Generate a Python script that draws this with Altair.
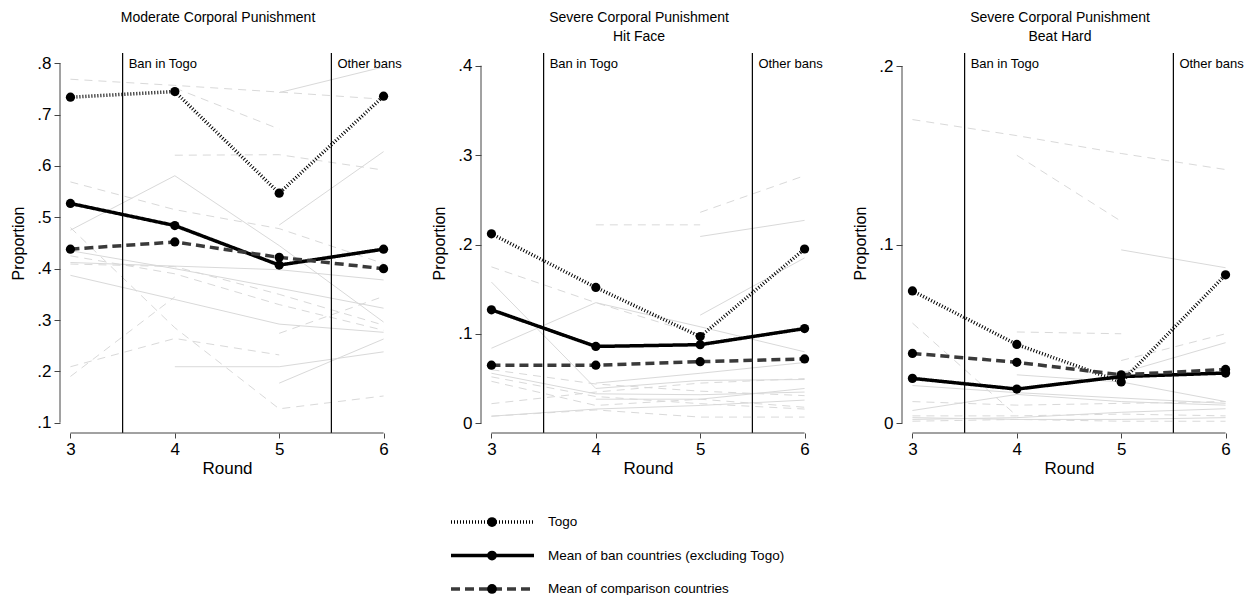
import altair as alt
import pandas as pd

rounds = [3, 4, 5, 6]
series_names = ["Togo", "Mean of ban countries (excluding Togo)", "Mean of comparison countries"]

# ---------------- Panel 1: Moderate corporal punishment ----------------
p1_togo = [0.734, 0.745, 0.547, 0.736]
p1_ban = [0.527, 0.484, 0.407, 0.438]
p1_comp = [0.438, 0.452, 0.422, 0.400]
p1_ban_countries = [
    [None, None, 0.743, 0.793],
    [None, None, 0.485, 0.628],
    [0.475, 0.581, 0.445, 0.296],
    [0.387, 0.340, 0.292, 0.276],
    [0.435, 0.400, 0.362, 0.323],
    [None, 0.209, 0.209, 0.238],
    [None, None, 0.177, 0.263],
    [0.412, 0.405, 0.398, 0.378],
]
p1_comp_countries = [
    [0.769, 0.757, 0.744, 0.730],
    [None, 0.752, 0.672, None],
    [None, 0.621, 0.622, 0.592],
    [0.569, 0.515, 0.478, 0.410],
    [0.409, 0.404, 0.350, 0.290],
    [0.480, 0.285, 0.127, 0.152],
    [0.209, 0.264, 0.232, None],
    [0.190, 0.345, None, None],
    [None, None, 0.274, 0.346],
    [0.425, 0.390, 0.330, 0.280],
]

# ---------------- Panel 2: Severe - hit face ----------------
p2_togo = [0.212, 0.152, 0.097, 0.195]
p2_ban = [0.127, 0.086, 0.088, 0.106]
p2_comp = [0.065, 0.065, 0.069, 0.072]
p2_ban_countries = [
    [None, None, 0.209, 0.227],
    [None, None, 0.121, 0.185],
    [0.084, 0.135, 0.108, 0.080],
    [0.158, 0.039, 0.048, 0.049],
    [0.056, 0.033, 0.032, 0.035],
    [0.008, 0.016, 0.020, 0.026],
    [None, 0.027, 0.027, 0.039],
    [None, 0.045, 0.056, 0.068],
]
p2_comp_countries = [
    [None, 0.222, 0.222, None],
    [None, None, 0.236, 0.277],
    [0.175, 0.135, 0.099, None],
    [0.052, 0.030, 0.022, 0.016],
    [0.022, 0.035, 0.045, 0.050],
    [0.008, 0.015, 0.007, 0.007],
    [0.047, 0.020, 0.027, 0.018],
    [0.060, 0.044, 0.036, 0.031],
]

# ---------------- Panel 3: Severe - beat hard ----------------
p3_togo = [0.074, 0.044, 0.023, 0.083]
p3_ban = [0.025, 0.019, 0.026, 0.028]
p3_comp = [0.039, 0.034, 0.027, 0.030]
p3_ban_countries = [
    [None, None, 0.097, 0.087],
    [None, None, 0.028, 0.045],
    [None, 0.027, 0.023, 0.012],
    [0.021, 0.017, 0.014, 0.011],
    [0.007, 0.016, 0.012, 0.010],
    [0.003, 0.002, 0.002, 0.003],
    [0.002, 0.003, 0.006, 0.008],
]
p3_comp_countries = [
    [0.170, 0.161, 0.151, 0.142],
    [None, 0.150, 0.113, None],
    [None, 0.051, 0.050, None],
    [0.056, 0.004, None, None],
    [None, None, 0.035, 0.050],
    [0.012, 0.010, 0.011, 0.012],
    [0.004, 0.004, 0.005, 0.004],
    [0.001, 0.002, 0.001, 0.001],
]

ban_lines = [3.5, 5.5]
ban_labels = ["Ban in Togo", "Other bans"]

W, H = 334, 380
FONT = "Liberation Sans"

# style per main series: (color, dash, width)
STYLES = {
    "Togo": ("black", [1, 2], 3.5),
    "Mean of ban countries (excluding Togo)": ("black", [1, 0], 3.5),
    "Mean of comparison countries": ("#3a3a3a", [9, 5], 3.5),
}


def gray_segments(group):
    rows = []
    seg = 0
    for vals in group:
        run = []
        for r, v in list(zip(rounds, vals)) + [(None, None)]:
            if v is None:
                if len(run) >= 2:
                    for rr, vv in run:
                        rows.append({"round": rr, "value": vv, "seg": seg})
                    seg += 1
                run = []
            else:
                run.append((r, v))
    return pd.DataFrame(rows)


def make_panel(title, togo, ban, comp, ban_c, comp_c, ydom, yticks):
    xscale = alt.Scale(domain=[2.9, 6.1], nice=False, zero=False)
    yscale = alt.Scale(domain=ydom, nice=False, zero=False)
    xaxis = alt.Axis(values=rounds, title="Round", domain=False, grid=False,
                     tickSize=5, tickColor="#444", labelFontSize=17, titleFontSize=17,
                     titleFontWeight="normal", labelPadding=3, titlePadding=3,
                     labelColor="black", titleColor="black")
    yaxis = alt.Axis(values=yticks, title="Proportion", domain=False, grid=False,
                     tickSize=6, tickColor="#444", labelFontSize=17, titleFontSize=16,
                     titleFontWeight="normal", labelPadding=3, titlePadding=10,
                     labelAngle=0, labelColor="black", titleColor="black",
                     labelExpr="datum.value == 0 ? '0' : replace(format(datum.value, '.1f'), '0.', '.')")
    X = alt.X("round:Q", scale=xscale, axis=xaxis)
    Y = alt.Y("value:Q", scale=yscale, axis=yaxis)

    gray_ban = alt.Chart(gray_segments(ban_c)).mark_line(strokeWidth=1, color="#d9d9d9").encode(
        x=X, y=Y, detail="seg:N")
    gray_comp = alt.Chart(gray_segments(comp_c)).mark_line(strokeWidth=1, color="#d9d9d9", strokeDash=[8, 6]).encode(
        x=X, y=Y, detail="seg:N")

    vdf = pd.DataFrame({"round": ban_lines, "label": ban_labels})
    vrules = alt.Chart(vdf).mark_rule(color="black", strokeWidth=1.2).encode(
        x=X, y=alt.value(0), y2=alt.value(H))
    vtext = alt.Chart(vdf).mark_text(align="left", baseline="middle", dx=6, fontSize=13, font=FONT).encode(
        x=X, y=alt.value(11), text="label:N")

    yline = alt.Chart(pd.DataFrame({"value": [yticks[0]], "hi": [yticks[-1]]})).mark_rule(color="#444", strokeWidth=1).encode(
        x=alt.value(0), y=Y, y2="hi:Q")
    xline = alt.Chart(pd.DataFrame({"round": [rounds[0]], "hi": [rounds[-1]]})).mark_rule(color="#444", strokeWidth=1).encode(
        y=alt.value(H), x=X, x2="hi:Q")

    layers = [gray_ban, gray_comp, vrules, vtext, yline, xline]
    for s, vals in zip(series_names, (togo, ban, comp)):
        df = pd.DataFrame({"round": rounds, "value": vals})
        col, dash, wid = STYLES[s]
        layers.append(alt.Chart(df).mark_line(color=col, strokeDash=dash, strokeWidth=wid).encode(x=X, y=Y))
        layers.append(alt.Chart(df).mark_circle(size=85, color="black", opacity=1).encode(x=X, y=Y))

    return alt.layer(*layers).properties(
        width=W, height=H,
        title=alt.TitleParams(text=title, fontSize=14, fontWeight="normal", anchor="middle",
                              frame="group", dx=-9, offset=8, lineHeight=19, color="black", font=FONT),
    )


c1 = make_panel(["Moderate Corporal Punishment", " "], p1_togo, p1_ban, p1_comp,
                p1_ban_countries, p1_comp_countries, [0.0799, 0.8201], [0.1, 0.2, 0.3, 0.4, 0.5, 0.6, 0.7, 0.8])
c2 = make_panel(["Severe Corporal Punishment", "Hit Face"], p2_togo, p2_ban, p2_comp,
                p2_ban_countries, p2_comp_countries, [-0.0108, 0.4142], [0, 0.1, 0.2, 0.3, 0.4])
c3 = make_panel(["Severe Corporal Punishment", "Beat Hard"], p3_togo, p3_ban, p3_comp,
                p3_ban_countries, p3_comp_countries, [-0.0056, 0.2073], [0, 0.1, 0.2])

top = alt.hconcat(c1, c2, c3, spacing=87, bounds="flush")

# ---------------- Legend ----------------
LY = alt.Y("row:Q", axis=None, scale=alt.Scale(domain=[-0.3, 2.15], reverse=True, nice=False, zero=False))
leg_layers = []
for i, s in enumerate(series_names):
    col, dash, wid = STYLES[s]
    df = pd.DataFrame({"series": [s], "row": [i]})
    leg_layers.append(alt.Chart(df).mark_rule(color=col, strokeDash=dash, strokeWidth=wid).encode(
        x=alt.value(391), x2=alt.value(474), y=LY))
    leg_layers.append(alt.Chart(df).mark_circle(size=95, color="black", opacity=1).encode(x=alt.value(432), y=LY))
    leg_layers.append(alt.Chart(df).mark_text(align="left", baseline="middle", fontSize=13.5, font=FONT).encode(
        x=alt.value(488), y=LY, text="series:N"))
legend = alt.layer(*leg_layers).properties(width=W * 3 + 87 * 2, height=82)

chart = alt.vconcat(top, legend, spacing=36).properties(
    padding={"left": 10, "top": 11, "right": 5, "bottom": 0}
).configure(font=FONT).configure_view(stroke=None)

chart.save("out.html", embed_options={"renderer": "svg", "actions": False})
